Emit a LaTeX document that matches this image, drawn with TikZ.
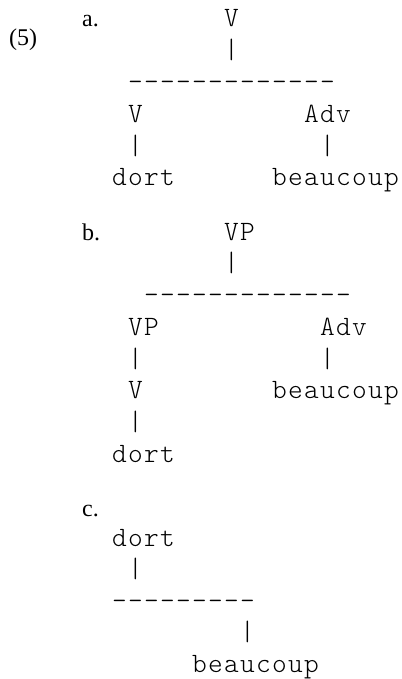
\documentclass[tikz,border=0pt]{standalone}
\usepackage{fontspec}
\newfontfamily\labelfont{Liberation Serif}
\newfontfamily\treefont{lmmonolt10-regular.otf}[LetterSpace=4.6]

\begin{document}
\begin{tikzpicture}[x=1pt,y=-1pt]
	\tikzstyle{tag} = [font=\labelfont\fontsize{24}{24}\selectfont, inner sep=0pt, anchor=base west]
	\tikzstyle{tok} = [font=\treefont\fontsize{28}{28}\selectfont, inner sep=0pt, anchor=base west]
	\useasboundingbox (0,0) rectangle (401,679);
	\node (ex) [tag] at (9,46) {(5)};
	\node (la) [tag] at (82,27) {a.};
	\node (lb) [tag] at (82,240) {b.};
	\node (lc) [tag] at (82,516) {c.};
	\begin{scope}[shift={(112pt,-27pt)}, x=16pt, y=-31.75pt]
		\node (aV) [tok] at (7,0) {V};
		\node (aBar) [tok] at (7,1) {|};
		\node (aRule) [tok] at (1,2) {-------------};
		\node (aVl) [tok] at (1,3) {V};
		\node (aAdv) [tok] at (12,3) {Adv};
		\node (aBarL) [tok] at (1,4) {|};
		\node (aBarR) [tok] at (13,4) {|};
		\node (aDort) [tok] at (0,5) {dort};
		\node (aBeau) [tok] at (10,5) {beaucoup};
	\end{scope}
	\begin{scope}[shift={(112pt,-240pt)}, x=16pt, y=-31.75pt]
		\node (bVP) [tok] at (7,0) {VP};
		\node (bBar) [tok] at (7,1) {|};
		\node (bRule) [tok] at (2,2) {-------------};
		\node (bVPl) [tok] at (1,3) {VP};
		\node (bAdv) [tok] at (13,3) {Adv};
		\node (bBarL) [tok] at (1,4) {|};
		\node (bBarR) [tok] at (13,4) {|};
		\node (bV) [tok] at (1,5) {V};
		\node (bBeau) [tok] at (10,5) {beaucoup};
		\node (bBarV) [tok] at (1,6) {|};
		\node (bDort) [tok] at (0,7) {dort};
	\end{scope}
	\begin{scope}[shift={(112pt,-546pt)}, x=16pt, y=-31.6pt]
		\node (cDort) [tok] at (0,0) {dort};
		\node (cBar) [tok] at (1,1) {|};
		\node (cRule) [tok] at (0,2) {---------};
		\node (cBarR) [tok] at (8,3) {|};
		\node (cBeau) [tok] at (5,4) {beaucoup};
	\end{scope}
\end{tikzpicture}
\end{document}
